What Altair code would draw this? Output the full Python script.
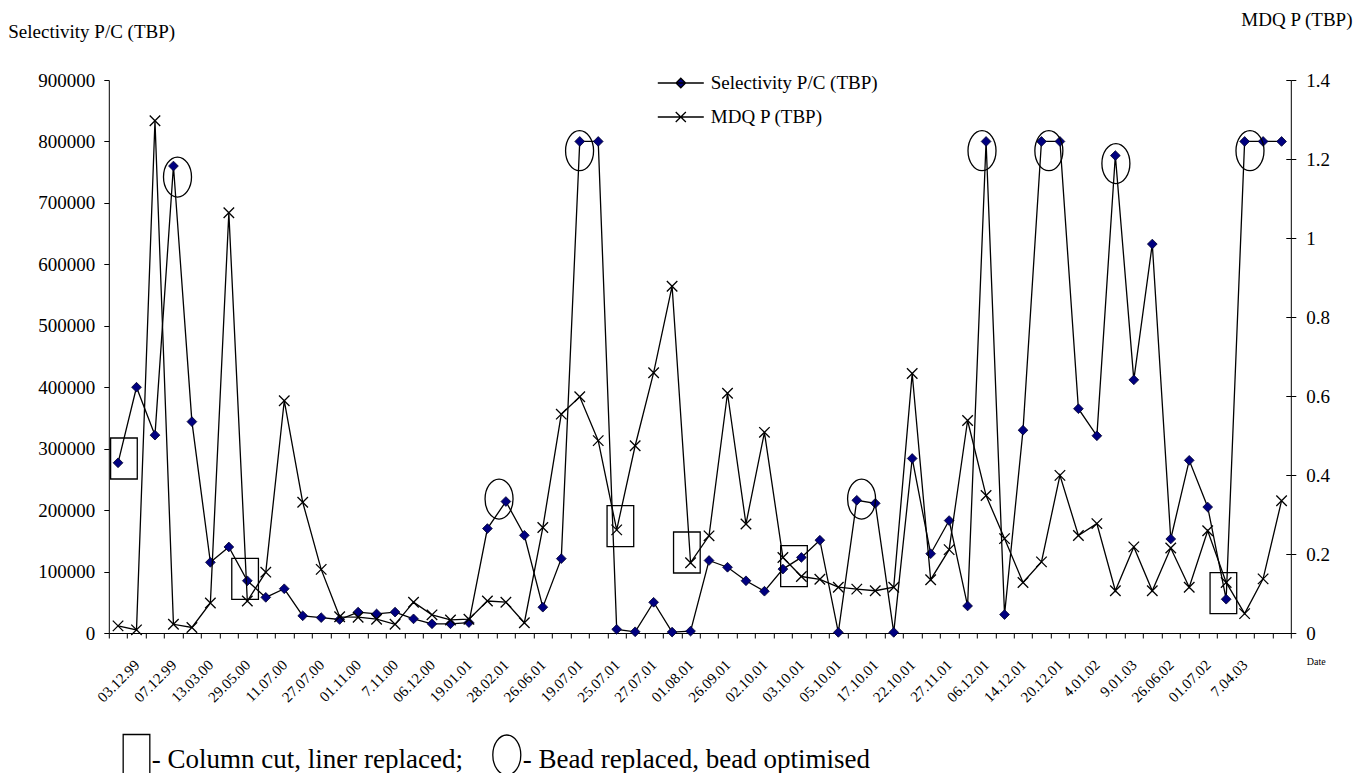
import altair as alt
import pandas as pd

# Sampling dates shown under every second point
dates = [
    "03.12.99", "07.12.99", "13.03.00", "29.05.00", "11.07.00", "27.07.00",
    "01.11.00", "7.11.00", "06.12.00", "19.01.01", "28.02.01", "26.06.01",
    "19.07.01", "25.07.01", "27.07.01", "01.08.01", "26.09.01", "02.10.01",
    "03.10.01", "05.10.01", "17.10.01", "22.10.01", "27.11.01", "06.12.01",
    "14.12.01", "20.12.01", "4.01.02", "9.01.03", "26.06.02", "01.07.02",
    "7.04.03",
]

# Selectivity P/C (TBP), left axis
selectivity = [
    277000, 400000, 322000, 760000, 344000, 115000, 140000, 85000, 58000, 72000,
    28000, 25000, 22000, 34000, 31000, 34000, 23000, 15000, 15000, 17000,
    170000, 214000, 159000, 42000, 121000, 800000, 800000, 6000, 2000, 50000,
    1500, 3000, 118000, 107000, 85000, 68000, 104000, 123000, 151000, 1000,
    216000, 211000, 1000, 284000, 129000, 183000, 44000, 800000, 30000, 330000,
    800000, 800000, 365000, 321000, 777000, 412000, 633000, 153000, 281000, 205000,
    55000, 800000, 800000, 800000,
]

# MDQ P (TBP), right axis
mdq = [
    0.018, 0.008, 1.297, 0.022, 0.014, 0.076, 1.064, 0.081, 0.154, 0.588,
    0.331, 0.161, 0.041, 0.040, 0.035, 0.022, 0.078, 0.046, 0.033, 0.035,
    0.081, 0.078, 0.026, 0.267, 0.554, 0.598, 0.487, 0.261, 0.474, 0.659,
    0.878, 0.178, 0.246, 0.607, 0.276, 0.508, 0.191, 0.143, 0.136, 0.116,
    0.111, 0.107, 0.116, 0.657, 0.135, 0.211, 0.538, 0.348, 0.239, 0.128,
    0.180, 0.399, 0.247, 0.277, 0.107, 0.218, 0.107, 0.215, 0.116, 0.259,
    0.128, 0.049, 0.137, 0.335,
]

# Maintenance events: column cut / liner replaced (boxes)
box_pos = [0.32, 6.88, 27.2, 30.8, 36.6, 59.85]
box_val = [284000, 88000, 174000, 131000, 109000, 65000]
# Bead replaced / bead optimised (ellipses)
ring_pos = [3.22, 20.63, 24.99, 40.26, 46.78, 50.4, 54.03, 61.29]
ring_val = [742000, 218000, 785000, 218000, 785000, 785000, 764000, 785000]

SERIES = ["Selectivity P/C (TBP)", "MDQ P (TBP)"]
sel_ticks = [0, 100000, 200000, 300000, 400000, 500000, 600000, 700000, 800000, 900000]
mdq_ticks = [0, 0.2, 0.4, 0.6, 0.8, 1, 1.2, 1.4]

W, H = 1182, 553
FONT = "Liberation Serif, Times New Roman, Times, Nimbus Roman, DejaVu Serif, serif"

n = len(selectivity)
df = pd.DataFrame({"idx": list(range(n)), "sel": selectivity, "mdq": mdq})
boxes = pd.DataFrame({"idx": box_pos, "sel": box_val})
rings = pd.DataFrame({"idx": ring_pos, "sel": ring_val})
legend_df = pd.DataFrame({"series": SERIES, "idx": [0, 0], "sel": [0, 0]})
one = pd.DataFrame({"k": [0]})

# symbol paths
XMARK = "M-1,-1L1,1M-1,1L1,-1"
BOX = "M-0.65,-1H0.65V1H-0.65Z"
RING = "M-0.7,0A0.7,1,0,1,1,0.7,0A0.7,1,0,1,1,-0.7,0Z"
LEG_SEL = "M-1,0H1M0,-0.21L0.21,0L0,0.21L-0.21,0Z"
LEG_MDQ = "M-1,0H1M-0.22,-0.22L0.22,0.22M-0.22,0.22L0.22,-0.22"

x_scale = alt.Scale(domain=[-0.5, n - 0.5], nice=False, zero=False)
sel_scale = alt.Scale(domain=[0, 900000], nice=False, zero=True)
mdq_scale = alt.Scale(domain=[0, 1.4], nice=False, zero=True)

label_js = "[" + ",".join("'%s'" % d for d in dates) + "]"

x_tick_axis = alt.Axis(
    orient="bottom", values=[i - 0.5 for i in range(n + 1)], labels=False,
    grid=False, tickSize=5, tickWidth=1, domainWidth=1,
    title="Date", titleFontSize=10, titleX=1207, titleY=28,
    titleAlign="center", titleBaseline="middle",
)
x_label_axis = alt.Axis(
    orient="bottom", values=list(range(1, 2 * len(dates), 2)),
    labelExpr=label_js + "[(datum.value - 1) / 2]",
    labelAngle=315, labelAlign="right", labelBaseline="middle",
    labelPadding=29, labelFontSize=15, labelOverlap=False, labelFlush=False,
    ticks=False, tickSize=0, domain=False, grid=False, title=None,
)
left_axis = alt.Axis(
    orient="left", values=sel_ticks, format="d", grid=False, tickSize=5,
    labelPadding=9, title=SERIES[0], titleAngle=0, titleAlign="left",
    titleBaseline="middle", titleX=-101, titleY=-49, titleFontSize=19,
)
right_axis = alt.Axis(
    orient="right", values=mdq_ticks, format="~g", grid=False, tickSize=5,
    labelPadding=10, title=SERIES[1], titleAngle=0, titleAlign="left",
    titleBaseline="middle", titleX=-50, titleY=-61, titleFontSize=19,
)
right_inner_axis = alt.Axis(
    orient="right", values=mdq_ticks, offset=-5, labels=False, domain=False,
    grid=False, tickSize=5, title=None,
)

sel_line = alt.Chart(df).mark_line(color="black", strokeWidth=1.3).encode(
    x=alt.X("idx:Q", scale=x_scale, axis=x_tick_axis),
    y=alt.Y("sel:Q", scale=sel_scale, axis=left_axis),
)
sel_pts = alt.Chart(df).mark_point(
    shape="diamond", filled=True, fill="#000080", stroke="#00002a",
    strokeWidth=0.8, size=95, opacity=1,
).encode(
    x=alt.X("idx:Q", scale=x_scale, axis=x_label_axis),
    y=alt.Y("sel:Q", scale=sel_scale, axis=None),
)
box_layer = alt.Chart(boxes).mark_point(
    shape=BOX, size=1681, filled=False, stroke="black", strokeWidth=1.3, opacity=1,
).encode(
    x=alt.X("idx:Q", scale=x_scale, axis=None),
    y=alt.Y("sel:Q", scale=sel_scale, axis=None),
)
ring_layer = alt.Chart(rings).mark_point(
    shape=RING, size=1600, filled=False, stroke="black", strokeWidth=1.3, opacity=1,
).encode(
    x=alt.X("idx:Q", scale=x_scale, axis=None),
    y=alt.Y("sel:Q", scale=sel_scale, axis=None),
)

leg = alt.Legend(
    orient="none", legendX=548, legendY=-21, title=None, symbolSize=2116,
    symbolStrokeWidth=1.3, symbolOpacity=1, labelFont=FONT, labelFontSize=19,
    labelColor="black", labelOffset=6, labelLimit=400, rowPadding=0, padding=0,
)
legend_layer = alt.Chart(legend_df).mark_point(opacity=0, size=10).encode(
    x=alt.X("idx:Q", scale=x_scale, axis=None),
    y=alt.Y("sel:Q", scale=sel_scale, axis=None),
    shape=alt.Shape("series:N", scale=alt.Scale(domain=SERIES, range=[LEG_SEL, LEG_MDQ]), legend=leg),
    fill=alt.Fill("series:N", scale=alt.Scale(domain=SERIES, range=["#000080", "transparent"]), legend=leg),
    stroke=alt.Stroke("series:N", scale=alt.Scale(domain=SERIES, range=["black", "black"]), legend=leg),
)

# key for the event markers, under the date labels
note_box = alt.Chart(one).mark_point(
    shape=BOX, size=1681, filled=False, stroke="black", strokeWidth=1.3, opacity=1,
).encode(x=alt.value(27.7), y=alt.value(675))
note_box_text = alt.Chart(one).mark_text(
    text="- Column cut, liner replaced;", font=FONT, fontSize=27, align="left",
    baseline="alphabetic", color="black",
).encode(x=alt.value(43), y=alt.value(688))
note_ring = alt.Chart(one).mark_point(
    shape=RING, size=1600, filled=False, stroke="black", strokeWidth=1.3, opacity=1,
).encode(x=alt.value(398), y=alt.value(675))
note_ring_text = alt.Chart(one).mark_text(
    text="- Bead replaced, bead optimised", font=FONT, fontSize=27, align="left",
    baseline="alphabetic", color="black",
).encode(x=alt.value(414), y=alt.value(688))

mdq_line = alt.Chart(df).mark_line(color="black", strokeWidth=1.3).encode(
    x=alt.X("idx:Q", scale=x_scale, axis=None),
    y=alt.Y("mdq:Q", scale=mdq_scale, axis=right_axis),
)
mdq_pts = alt.Chart(df).mark_point(
    shape=XMARK, size=110, filled=False, stroke="black", strokeWidth=1.3, opacity=1,
).encode(
    x=alt.X("idx:Q", scale=x_scale, axis=None),
    y=alt.Y("mdq:Q", scale=mdq_scale, axis=right_inner_axis),
)

left = alt.layer(
    sel_line, sel_pts, box_layer, ring_layer, legend_layer,
    note_box, note_box_text, note_ring, note_ring_text,
).resolve_axis(x="independent", y="independent")
right = alt.layer(mdq_line, mdq_pts).resolve_axis(y="independent")

chart = (
    alt.layer(left, right)
    .resolve_scale(y="independent")
    .resolve_axis(x="independent", y="independent")
    .properties(
        width=W, height=H,
        autosize=alt.AutoSizeParams(type="none"),
        padding={"left": 108.8, "top": 80, "right": 67.2, "bottom": 140},
        background="white",
    )
    .configure_view(strokeWidth=0)
    .configure_axis(
        labelFont=FONT, titleFont=FONT, labelFontSize=19, labelColor="black",
        titleColor="black", tickColor="black", domainColor="black",
        titleFontWeight="normal",
    )
)

chart.save("out.html", embed_options={"renderer": "svg", "actions": False})
